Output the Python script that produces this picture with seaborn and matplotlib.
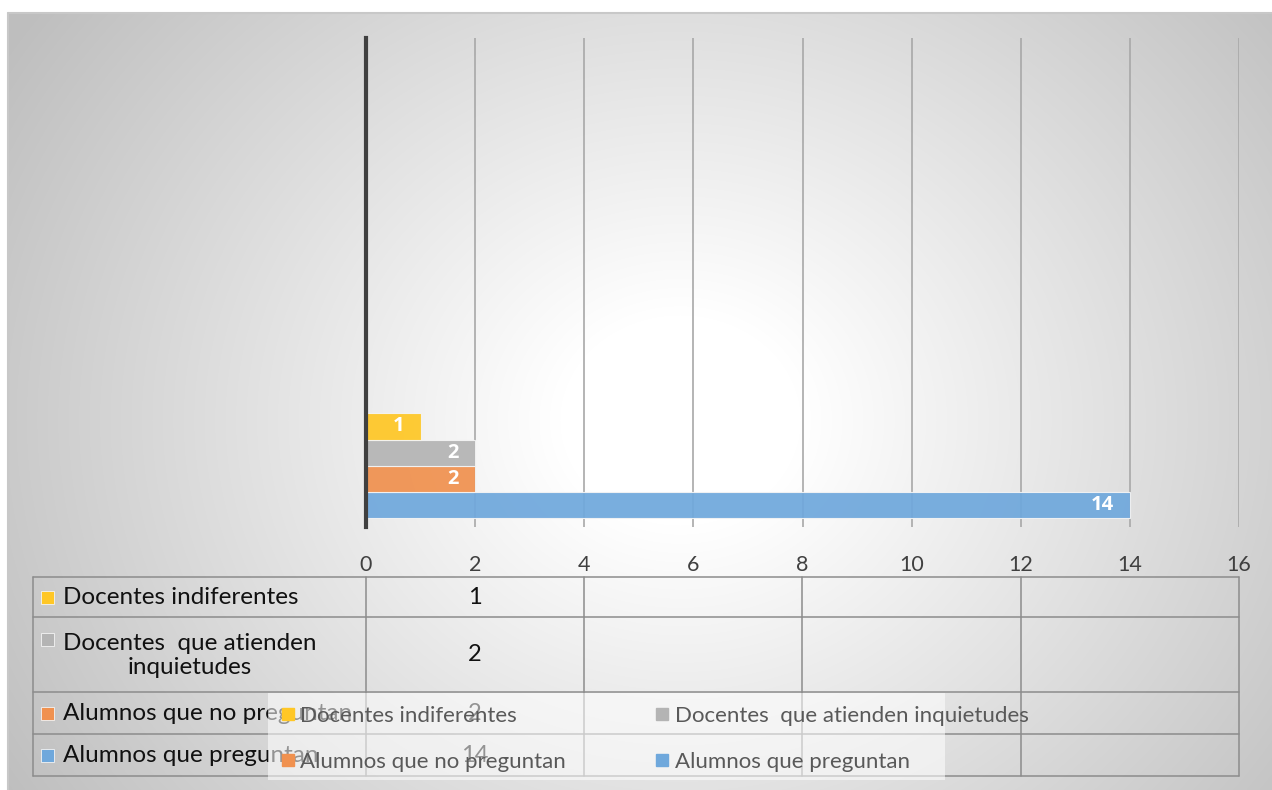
import matplotlib
matplotlib.use("Agg")
import matplotlib.pyplot as plt
from matplotlib.patches import Rectangle
from matplotlib.lines import Line2D
import seaborn as sns
import pandas as pd
import numpy as np

# --- data ---
categories = ['1', '2', '3', '4']          # only the first one has values
series = ['Alumnos que preguntan', 'Alumnos que no preguntan',
          'Docentes  que atienden inquietudes', 'Docentes indiferentes']
values = [14, 2, 2, 1]
colors = ['#6FA8DC', '#F0914F', '#B4B4B4', '#FFC726']
x_ticks = [0, 2, 4, 6, 8, 10, 12, 14, 16]

df = pd.DataFrame({'Categoria': categories[0], 'Serie': series, 'Cantidad': values})

W, H = 1272, 790
sns.set_style("white")
plt.rcParams['font.family'] = ['Lato', 'DejaVu Sans']
fig = plt.figure(figsize=(W / 100, H / 100), dpi=100)

# background: radial grey gradient like the Excel chart area
bg = fig.add_axes([0, 0, 1, 1], zorder=0)
yy, xx = np.mgrid[0:H, 0:W]
d = np.sqrt(((xx - 680) / 800.0) ** 2 + ((yy - 420) / 700.0) ** 2)
shade = 1 - (65 / 255.0) * np.clip((d - 0.15) / 0.85, 0, 1)
shade[:13, :] = 1
shade[:, :8] = 1
bg.imshow(np.dstack([shade] * 3), extent=(0, W, H, 0), aspect='auto')
bg.plot([8, W], [13, 13], color='#c8c8c8', lw=1.5)
bg.plot([8, 8], [13, H], color='#c8c8c8', lw=1.5)
bg.set_xlim(0, W)
bg.set_ylim(H, 0)
bg.axis('off')

# main bar chart
ax = fig.add_axes([366 / W, (H - 527) / H, 873 / W, 489 / H], zorder=1)
ax.set_facecolor('none')
sns.barplot(data=df, y='Categoria', x='Cantidad', hue='Serie', order=categories,
            hue_order=series, palette=colors, orient='h', width=0.86, saturation=1,
            alpha=0.93, edgecolor='#f4f4f4', linewidth=0.8, legend=False, ax=ax)
ax.set_ylim(-0.5, 3.5)
ax.set_xlim(0, 16)
ax.set_xticks(x_ticks)
ax.set_yticks([])
ax.set_xlabel('')
ax.set_ylabel('')
ax.set_axisbelow(True)
ax.xaxis.grid(True, color='#a8a8a8', lw=1.2)
ax.tick_params(axis='x', length=0, pad=20, labelsize=15.5, labelcolor='#404040')
for s in ['top', 'right', 'bottom']:
    ax.spines[s].set_visible(False)
ax.spines['left'].set_color('#404040')
ax.spines['left'].set_linewidth(3)

for p in ax.patches:
    w = p.get_width()
    if np.isnan(w) or w == 0:
        continue
    ax.annotate(f"{w:g}", xy=(w, p.get_y() + p.get_height() / 2),
                xytext=(-16, 0), textcoords='offset pixels', ha='right', va='center',
                color='white', fontsize=14.5, fontweight='bold',
                family=['Open Sans', 'DejaVu Sans'])

# data table + legend overlay (pixel coordinates)
ov = fig.add_axes([0, 0, 1, 1], zorder=3)
ov.set_facecolor('none')
ov.set_xlim(0, W)
ov.set_ylim(H, 0)
ov.axis('off')

row_edges = [577, 617, 692, 734, 776]
col_edges = [33, 366, 584, 802, 1021, 1239]
line_c = '#8c8c8c'
for y in row_edges:
    ov.plot([col_edges[0], col_edges[-1]], [y, y], color=line_c, lw=1.1)
for x in col_edges:
    ov.plot([x, x], [row_edges[0], row_edges[-1]], color=line_c, lw=1.1)

table_series = series[::-1]
table_values = values[::-1]
table_colors = colors[::-1]
for i, (name, val, c) in enumerate(zip(table_series, table_values, table_colors)):
    top, bot = row_edges[i], row_edges[i + 1]
    mid = (top + bot) / 2
    label = name.replace('atienden ', 'atienden\n')
    if '\n' in label:
        ty = top + 22
        ov.text(63, mid + 1, label, ha='left', va='center', multialignment='center',
                fontsize=17.5, color='#111111', linespacing=1.2)
    else:
        ty = mid
        ov.text(63, mid, label, ha='left', va='center', fontsize=17.5, color='#111111')
    ov.add_patch(Rectangle((41, ty - 6.5), 13, 13, facecolor=c, edgecolor='#f4f4f4', lw=0.6))
    ov.text((col_edges[1] + col_edges[2]) / 2, mid, f"{val:g}", ha='center',
            va='center', fontsize=17, color='#111111')

# legend (Excel order: reversed series, filled row by row)
leg_order = [3, 1, 2, 0]
handles = [Line2D([], [], marker='s', ls='', markersize=9, color=colors[k])
           for k in leg_order]
labels = [series[k] for k in leg_order]
ov.add_patch(Rectangle((268, 693), 677, 87, facecolor='white', alpha=0.55,
                       edgecolor='none', zorder=4))
leg = ov.legend(handles, labels, ncol=2, loc='upper left', bbox_to_anchor=(270, 696),
                bbox_transform=ov.transData, frameon=False, fontsize=16,
                labelcolor='#595959', handlelength=0.7, handletextpad=0.2,
                columnspacing=4.0, labelspacing=1.17, borderaxespad=0, borderpad=0.45)
leg.set_zorder(5)

fig.savefig('out.png', dpi=100)
